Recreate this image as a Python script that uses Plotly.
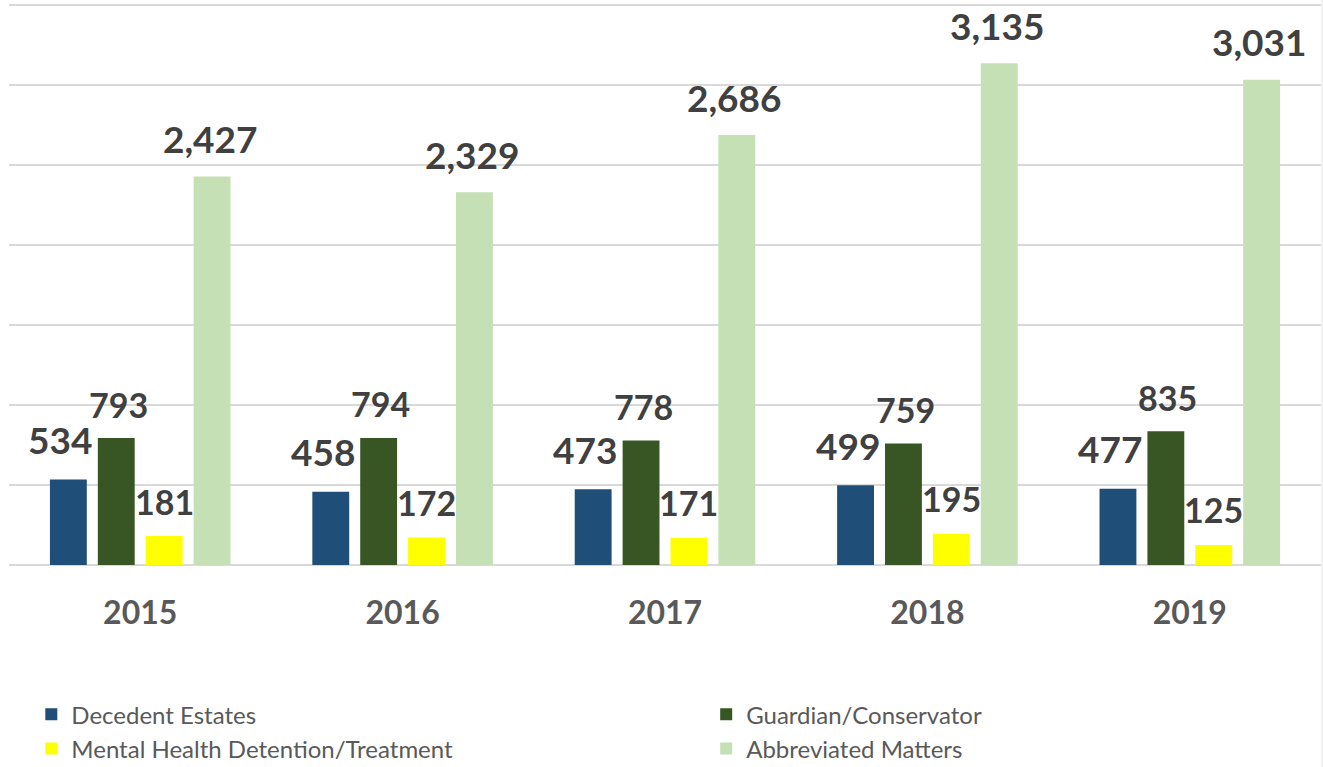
import plotly.graph_objects as go

years = ["2015", "2016", "2017", "2018", "2019"]
series_names = ["Decedent Estates", "Guardian/Conservator",
                "Mental Health Detention/Treatment", "Abbreviated Matters"]
decedent = [534, 458, 473, 499, 477]
guardian = [793, 794, 778, 759, 835]
mental = [181, 172, 171, 195, 125]
abbreviated = [2427, 2329, 2686, 3135, 3031]

series_values = [decedent, guardian, mental, abbreviated]
colors = ["#1F4E79", "#375623", "#FFFF00", "#C5E0B4"]
legend_ids = ["legend", "legend2", "legend", "legend2"]
label_sizes = [37, 34, 34, 37]
label_xshift = [-8, 2, 0, -2]
label_yshift = [40, 34, 35, 38]

BARGAP = 0.27
BARGROUPGAP = 0.23
FONT = "Lato"

fig = go.Figure()
for name, vals, col, lg in zip(series_names, series_values, colors, legend_ids):
    fig.add_trace(go.Bar(name=name, x=years, y=vals, marker_color=col,
                         marker_line_width=0, hoverinfo="skip", legend=lg,
                         legendgroup=name))

n = len(series_values)
slot = (1 - BARGAP) / n
for k, vals in enumerate(series_values):
    for i, v in enumerate(vals):
        fig.add_annotation(
            x=i + (k - (n - 1) / 2) * slot, y=v, xref="x", yref="y",
            text=f"{v:,}", showarrow=False, yanchor="middle",
            xshift=label_xshift[k], yshift=label_yshift[k],
            font=dict(family=FONT, size=label_sizes[k], color="#404040",
                      weight="bold"),
        )

legend_common = dict(orientation="v", yanchor="top", xanchor="left",
                     font=dict(family=FONT, size=24, color="#595959"),
                     traceorder="normal", tracegroupgap=3, itemclick=False,
                     bgcolor="rgba(0,0,0,0)")

# faint chart border on the right edge
fig.add_shape(type="line", xref="paper", yref="paper",
              x0=1.0008, x1=1.0008, y0=-0.36, y1=1.0,
              line=dict(color="#E3E3E3", width=1))

fig.update_layout(
    width=1323, height=767,
    margin=dict(l=9, r=2, t=0, b=202, autoexpand=False),
    paper_bgcolor="white", plot_bgcolor="white",
    barmode="group", bargap=BARGAP, bargroupgap=BARGROUPGAP,
    showlegend=True,
    legend=dict(x=0.017, y=-0.225, **legend_common),
    legend2=dict(x=0.5314, y=-0.225, **legend_common),
)
fig.update_xaxes(
    type="category", showgrid=False, showline=False, zeroline=False,
    ticks="", ticklabelstandoff=26,
    tickfont=dict(family=FONT, size=32, color="#595959", weight="bold"),
)
fig.update_yaxes(
    range=[0, 3530], dtick=500, showticklabels=False,
    showgrid=True, gridcolor="#D9D9D9", gridwidth=1.5,
    zeroline=True, zerolinecolor="#D9D9D9", zerolinewidth=1.5, showline=False,
)

fig.write_html("out.html", config={"displayModeBar": False},
               post_script="document.body.style.margin='0';"
                           "document.body.style.overflow='hidden';")
